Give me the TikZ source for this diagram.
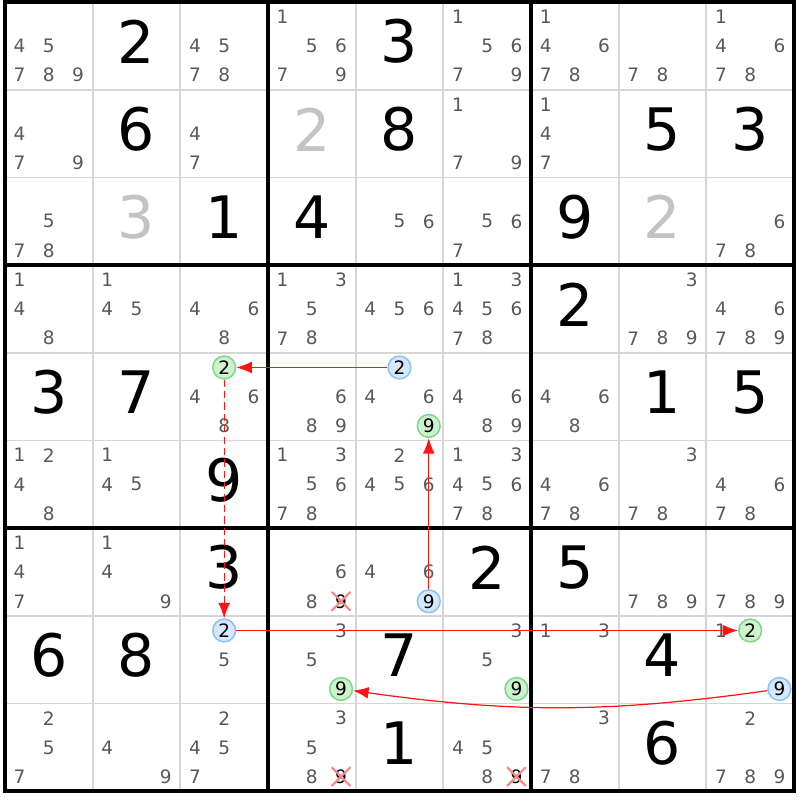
\documentclass[tikz,border=0pt]{standalone}
\usepackage{fontspec}
\newfontfamily\sudfont{DejaVu Sans}
\usetikzlibrary{arrows.meta,shapes.misc}
\definecolor{candgray}{RGB}{88,88,88}
\definecolor{placedgray}{RGB}{195,195,195}
\definecolor{thingray}{RGB}{214,214,214}
\definecolor{onfill}{RGB}{206,242,206}
\definecolor{ondraw}{RGB}{125,215,140}
\definecolor{offfill}{RGB}{212,232,255}
\definecolor{offdraw}{RGB}{140,195,245}
\definecolor{elimred}{RGB}{245,135,135}
\definecolor{linkred}{RGB}{255,20,20}

% candidates of one cell: row, column, digits
\newcommand{\cands}[3]{%
  \foreach \d in {#3}
   {\node [cand] (k#1#2\d) at ({#2-1+(mod(\d-1,3)+0.5)/3},{#1-1+(floor((\d-1)/3)+0.5)/3}) {\d};}}
% one marked candidate: style, row, column, digit
\newcommand{\hilite}[4]{%
  \node [#1] (h#2#3#4) at ({#3-1+(mod(#4-1,3)+0.5)/3},{#2-1+(floor((#4-1)/3)+0.5)/3}) {#4};}

\begin{document}
\begin{tikzpicture}
    \tikzset{x=1cm,y=-1cm,every path/.style={>={Latex[length=5pt,width=3.8pt]}},
      cand/.style={inner sep=0pt,text=candgray,font=\sudfont\fontsize{6}{7}\selectfont},
      given/.style={inner sep=0pt,font=\sudfont\fontsize{19}{19}\selectfont},
      placed/.style={given,text=placedgray},
      oncand/.style={cand,circle,draw=ondraw,fill=onfill,text=black,minimum size=0.26cm,line width=0.5pt},
      offcand/.style={oncand,draw=offdraw,fill=offfill},
      elim/.style={cand,cross out,draw=elimred,text=black,minimum size=0.19cm,line width=0.7pt},
      link/.style={draw=linkred,line width=0.4pt}}
    \useasboundingbox (-0.057,-0.025) rectangle (9.068,9.10);
    % grid
    \foreach \i in {1,2,4,5,7,8}
      {\draw [thingray,line width=0.6pt] (\i,0)--(\i,9) (0,\i)--(9,\i);}
    \foreach \i in {3,6}
      {\draw [line width=1.15pt] (\i,0)--(\i,9) (0,\i)--(9,\i);}
    \draw [line width=1.3pt] (0,0) rectangle (9,9);
    % givens
    \foreach \r/\c/\v in {1/2/2,1/5/3,2/2/6,2/5/8,2/8/5,2/9/3,3/3/1,3/4/4,3/7/9,4/7/2,
      5/1/3,5/2/7,5/8/1,5/9/5,6/3/9,7/3/3,7/6/2,7/7/5,8/1/6,8/2/8,8/5/7,8/8/4,9/5/1,9/8/6}
      {\node [given] (v\r\c) at (\c-0.5,\r-0.55) {\v};}
    \foreach \r/\c/\v in {2/4/2,3/2/3,3/8/2}
      {\node [placed] (v\r\c) at (\c-0.5,\r-0.55) {\v};}
    % pencil marks
    \cands{1}{1}{4,5,7,8,9} \cands{1}{3}{4,5,7,8} \cands{1}{4}{1,5,6,7,9}
    \cands{1}{6}{1,5,6,7,9} \cands{1}{7}{1,4,6,7,8} \cands{1}{8}{7,8} \cands{1}{9}{1,4,6,7,8}
    \cands{2}{1}{4,7,9} \cands{2}{3}{4,7} \cands{2}{6}{1,7,9} \cands{2}{7}{1,4,7}
    \cands{3}{1}{5,7,8} \cands{3}{5}{5,6} \cands{3}{6}{5,6,7} \cands{3}{9}{6,7,8}
    \cands{4}{1}{1,4,8} \cands{4}{2}{1,4,5} \cands{4}{3}{4,6,8} \cands{4}{4}{1,3,5,7,8}
    \cands{4}{5}{4,5,6} \cands{4}{6}{1,3,4,5,6,7,8} \cands{4}{8}{3,7,8,9} \cands{4}{9}{4,6,7,8,9}
    \cands{5}{3}{4,6,8} \cands{5}{4}{6,8,9} \cands{5}{5}{4,6} \cands{5}{6}{4,6,8,9} \cands{5}{7}{4,6,8}
    \cands{6}{1}{1,2,4,8} \cands{6}{2}{1,4,5} \cands{6}{4}{1,3,5,6,7,8} \cands{6}{5}{2,4,5,6}
    \cands{6}{6}{1,3,4,5,6,7,8} \cands{6}{7}{4,6,7,8} \cands{6}{8}{3,7,8} \cands{6}{9}{4,6,7,8}
    \cands{7}{1}{1,4,7} \cands{7}{2}{1,4,9} \cands{7}{4}{6,8} \cands{7}{5}{4,6}
    \cands{7}{8}{7,8,9} \cands{7}{9}{7,8,9}
    \cands{8}{3}{5} \cands{8}{4}{3,5} \cands{8}{6}{3,5} \cands{8}{7}{1,3} \cands{8}{9}{1}
    \cands{9}{1}{2,5,7} \cands{9}{2}{4,9} \cands{9}{3}{2,4,5,7} \cands{9}{4}{3,5,8}
    \cands{9}{6}{4,5,8} \cands{9}{7}{3,7,8} \cands{9}{9}{2,7,8,9}
    % chain
    \hilite{oncand}{5}{3}{2} \hilite{offcand}{5}{5}{2} \hilite{oncand}{5}{5}{9}
    \hilite{offcand}{7}{5}{9} \hilite{offcand}{8}{3}{2} \hilite{oncand}{8}{4}{9}
    \hilite{oncand}{8}{6}{9} \hilite{oncand}{8}{9}{2} \hilite{offcand}{8}{9}{9}
    \hilite{elim}{7}{4}{9} \hilite{elim}{9}{4}{9} \hilite{elim}{9}{6}{9}
    \draw [link,->] (h552) -- (h532);
    \draw [link,->,dash pattern=on 2.3pt off 1.4pt] (h532) -- (h832);
    \draw [link,->] (h832) -- (h892);
    \draw [link,->] (h759) -- (h559);
    \draw [link,->] (h899) to[bend left=8] (h849);
\end{tikzpicture}
\end{document}
